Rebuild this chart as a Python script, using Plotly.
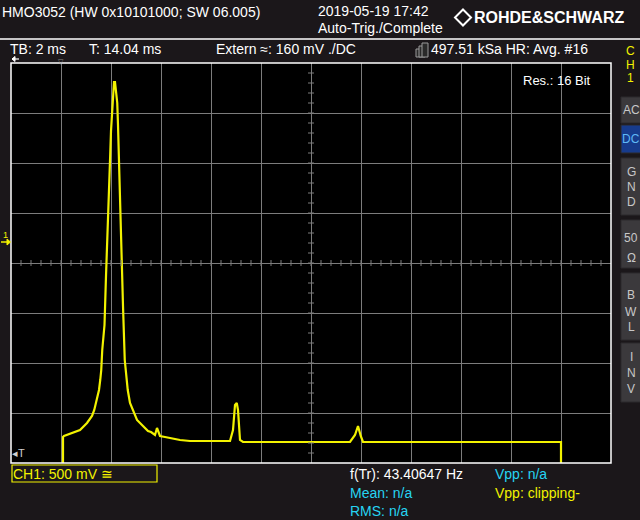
import plotly.graph_objects as go

# ---- data (time in ms, voltage in V) ----
t_ms = [2.08, 2.08, 2.12, 2.24, 2.48, 2.76, 3.04, 3.24, 3.33, 3.43, 3.52, 3.57, 3.61, 3.65,
        3.74, 3.80, 3.82, 3.85, 3.90, 3.93, 3.96, 4.00, 4.05, 4.08, 4.12, 4.16, 4.20, 4.25,
        4.28, 4.32, 4.37, 4.41, 4.43, 4.44, 4.48, 4.55, 4.60, 4.67, 4.76, 4.92, 5.04, 5.28,
        5.48, 5.60, 5.76, 5.84, 5.96, 6.16, 6.36, 6.56, 6.76, 7.16, 7.60, 8.00, 8.40, 8.76,
        8.88, 8.96, 9.03, 9.08, 9.16, 9.28, 10.0, 11.0, 12.0, 13.0, 13.56, 13.76, 13.88,
        13.99, 14.08, 15.0, 16.0, 17.0, 18.0, 19.0, 20.0, 21.0, 22.0, 22.0]
v_V = [-2.30, -1.95, -1.94, -1.93, -1.91, -1.88, -1.81, -1.74, -1.68, -1.58, -1.48, -1.38,
       -1.28, -1.08, -0.83, -0.34, -0.21, -0.03, 0.26, 0.51, 0.81, 1.11, 1.29, 1.46, 1.60,
       1.60, 1.51, 1.39, 1.17, 0.81, 0.36, -0.03, -0.21, -0.48, -0.64, -1.18, -1.34, -1.48,
       -1.61, -1.71, -1.78, -1.84, -1.89, -1.90, -1.93, -1.86, -1.94, -1.95, -1.96, -1.97,
       -1.98, -1.99, -1.99, -1.99, -1.99, -1.99, -1.88, -1.63, -1.61, -1.68, -1.98, -2.00,
       -2.00, -2.00, -2.00, -2.00, -2.00, -1.93, -1.84, -1.94, -2.00, -2.00, -2.00, -2.00,
       -2.00, -2.00, -2.00, -2.00, -2.00, -2.30]

x_range = [0, 24]          # 12 div x 2 ms
y_range = [-2.21, 1.79]    # 8 div x 500 mV, ch1 offset marker at 0 V
y_center = -0.21

BG = "#1b171a"
YEL = "#f2f200"
CYAN = "#26d4f2"
GRID = "#7c7c7c"

L, R, T, B = 11, 29, 63, 57
W, H = 640, 520
PW, PH = W - L - R, H - T - B

def px(x):
    return (x - L) / PW

def py(y):
    return (H - B - y) / PH

fig = go.Figure()
fig.add_trace(go.Scatter(x=t_ms, y=v_V, mode="lines",
                         line=dict(color=YEL, width=2.2, shape="linear"),
                         hoverinfo="skip", showlegend=False))

shapes = []
# center-axis minor ticks
dx = (x_range[1] - x_range[0]) / 60
dy = (y_range[1] - y_range[0]) / 40
xc = (x_range[0] + x_range[1]) / 2
for i in range(1, 60):
    xv = x_range[0] + i * dx
    shapes.append(dict(type="line", xref="x", yref="y", x0=xv, x1=xv,
                       y0=y_center - dy * 0.3, y1=y_center + dy * 0.3,
                       line=dict(color=GRID, width=1)))
for i in range(1, 40):
    yv = y_range[0] + i * dy
    shapes.append(dict(type="line", xref="x", yref="y", x0=xc - dx * 0.3, x1=xc + dx * 0.3,
                       y0=yv, y1=yv, line=dict(color=GRID, width=1)))
# plot border
shapes.append(dict(type="rect", xref="paper", yref="paper", x0=0, x1=1, y0=0, y1=1,
                   line=dict(color="white", width=1.5)))
# header separator
shapes.append(dict(type="line", xref="paper", yref="paper", x0=px(0), x1=px(640),
                   y0=py(39), y1=py(39), line=dict(color="white", width=1.5)))
# CH1 box
shapes.append(dict(type="rect", xref="paper", yref="paper", x0=px(12), x1=px(157),
                   y0=py(482), y1=py(465), line=dict(color=YEL, width=1.2)))
# R&S diamond logo
cx, cy, r = 463, 17.5, 8
shapes.append(dict(type="path", xref="paper", yref="paper",
                   path=f"M {px(cx)} {py(cy - r)} L {px(cx + r)} {py(cy)} L {px(cx)} {py(cy + r)} L {px(cx - r)} {py(cy)} Z",
                   line=dict(color="white", width=2)))
# memory icon
for k in range(3):
    shapes.append(dict(type="rect", xref="paper", yref="paper",
                       x0=px(416 + 3 * k), x1=px(422 + 3 * k),
                       y0=py(57), y1=py(49 - 3 * k), line=dict(color="#9a9a9a", width=1),
                       fillcolor="#2a2a2a"))
# right-side buttons
buttons = [(97, 123, "AC"), (125, 153, "DC"), (158, 215, "GND"), (220, 268, "50Ω"),
           (273, 340, "BWL"), (343, 402, "INV")]
for y0, y1, lab in buttons:
    fill = "#173b8c" if lab == "DC" else "#3b393c"
    shapes.append(dict(type="rect", xref="paper", yref="paper", x0=px(621), x1=px(642),
                       y0=py(y1), y1=py(y0), line=dict(color="#2c2a2d", width=1),
                       fillcolor=fill, layer="below"))
# channel-1 offset arrow marker
shapes.append(dict(type="line", xref="paper", yref="paper", x0=px(1), x1=px(9),
                   y0=py(242), y1=py(242), line=dict(color=YEL, width=1.5)))
shapes.append(dict(type="path", xref="paper", yref="paper",
                   path=f"M {px(7)} {py(239)} L {px(10.5)} {py(242)} L {px(7)} {py(245)} Z",
                   fillcolor=YEL, line=dict(color=YEL, width=1)))
# small arrow at top-left of grid
shapes.append(dict(type="line", xref="paper", yref="paper", x0=px(12), x1=px(19),
                   y0=py(59), y1=py(59), line=dict(color="white", width=1.2)))
shapes.append(dict(type="path", xref="paper", yref="paper",
                   path=f"M {px(15)} {py(56.5)} L {px(12)} {py(59)} L {px(15)} {py(61.5)} Z",
                   fillcolor="white", line=dict(color="white", width=1)))

ann = []
def text(x, y, s, color="white", size=14, anchor="left", family="Liberation Sans"):
    ann.append(dict(x=px(x), y=py(y), xref="paper", yref="paper", text=s, showarrow=False,
                    xanchor=anchor, yanchor="middle", borderpad=0,
                    font=dict(color=color, size=size, family=family)))

text(1, 12, "HMO3052 (HW 0x10101000; SW 06.005)", size=14)
text(317, 11, "2019-05-19 17:42", size=14)
text(317, 28, "Auto-Trig./Complete", size=14)
text(473, 18, "<b>ROHDE&amp;SCHWARZ</b>", size=16)
text(9, 49, "TB: 2 ms", size=14)
text(88, 49, "T: 14.04 ms", size=14)
text(215, 49, "Extern ≈: 160 mV ./DC", size=14)
text(430, 49, "497.51 kSa HR: Avg. #16", size=14)
text(522, 80, "Res.: 16 Bit", size=13)
text(61, 61, "▽", color="#8a8a8a", size=7, anchor="center")
text(11, 453, "◂T", color="#cfcfcf", size=11)
text(2, 235, "1", color=YEL, size=9)
text(12, 474, "CH1: 500 mV ≅", color=YEL, size=14)
text(349, 474, "f(Tr): 43.40647 Hz", size=14)
text(349, 493, "Mean: n/a", color=CYAN, size=14)
text(349, 511, "RMS: n/a", color=CYAN, size=14)
text(494, 474, "Vpp: n/a", color=CYAN, size=14)
text(494, 493, "Vpp: clipping-", color=YEL, size=14)
for yy, ch in [(51, "C"), (64.5, "H"), (78, "1")]:
    text(630, yy, ch, color=YEL, size=12, anchor="center")
text(631, 110, "AC", color="#c8c8c8", size=12, anchor="center")
text(631, 139, "DC", color="#5fb8f5", size=12, anchor="center")
for yy, ch in [(172, "G"), (187, "N"), (202, "D"), (238, "50"), (258, "Ω"),
               (295, "B"), (312, "W"), (327, "L"), (357, "I"), (373, "N"), (389, "V")]:
    text(631, yy, ch, color="#c8c8c8", size=12, anchor="center")

fig.update_layout(
    width=W, height=H, margin=dict(l=L, r=R, t=T, b=B),
    paper_bgcolor=BG, plot_bgcolor="black",
    xaxis=dict(range=x_range, tick0=0, dtick=2, showgrid=True, gridcolor=GRID, gridwidth=1,
               zeroline=False, showticklabels=False, ticks="", fixedrange=True),
    yaxis=dict(range=y_range, tick0=y_center, dtick=0.5, showgrid=True, gridcolor=GRID,
               gridwidth=1, zeroline=False, showticklabels=False, ticks="", fixedrange=True),
    shapes=shapes, annotations=ann, showlegend=False,
)
fig.write_html("out.html", config=dict(displayModeBar=False),
               post_script="document.body.style.margin='0px';document.body.style.overflow='hidden';")
